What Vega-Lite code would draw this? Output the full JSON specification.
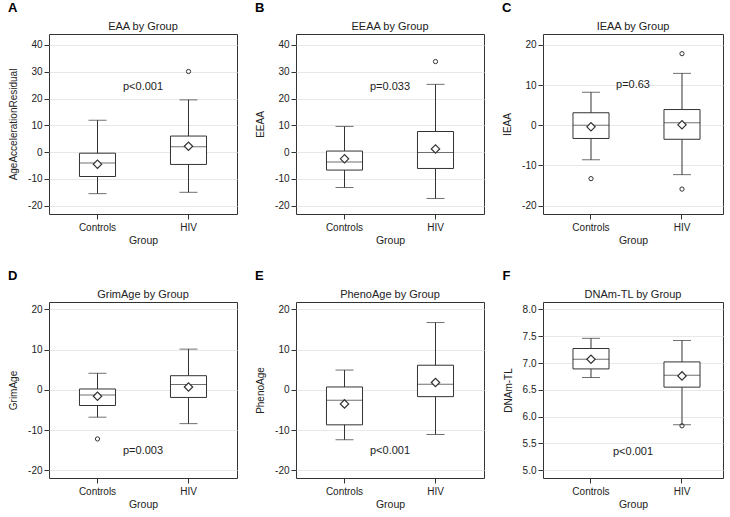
{
  "$schema": "https://vega.github.io/schema/vega-lite/v6.json",
  "padding": {"left": 8, "top": 1, "right": 0, "bottom": 0},
  "background": "white",
  "config": {
    "font": "Liberation Sans",
    "view": {"stroke": "#333", "strokeWidth": 1},
    "title": {"font": "Liberation Sans", "fontSize": 11, "fontWeight": "normal", "color": "#222", "offset": 2},
    "axis": {"labelFont": "Liberation Sans", "titleFont": "Liberation Sans", "labelFontSize": 10, "titleFontSize": 10, "titleFontWeight": "normal", "labelColor": "#222", "titleColor": "#222", "domain": false, "tickColor": "#333", "tickSize": 5, "gridColor": "#e8e8e8", "labelOverlap": false},
    "axisX": {"grid": false, "labelAngle": 0, "labelPadding": 3, "titlePadding": 3, "titleFontSize": 10.5},
    "axisY": {"grid": true, "labelPadding": 2, "titlePadding": 9, "labelExpr": "datum.value < 0 ? '-' + format(-datum.value, '.0f') : format(datum.value, '.0f')"},
    "concat": {"spacing": 17}
  },
  "datasets": {
    "stats": [
      {"panel": "A", "group": "Controls", "lo": -15.5, "q1": -9.1, "med": -4.1, "q3": -0.4, "hi": 11.9, "mean": -4.5},
      {"panel": "A", "group": "HIV", "lo": -15.0, "q1": -4.6, "med": 2.0, "q3": 6.0, "hi": 19.5, "mean": 2.2},
      {"panel": "B", "group": "Controls", "lo": -13.2, "q1": -6.7, "med": -3.7, "q3": 0.4, "hi": 9.6, "mean": -2.5},
      {"panel": "B", "group": "HIV", "lo": -17.3, "q1": -6.1, "med": -0.1, "q3": 7.7, "hi": 25.3, "mean": 1.2},
      {"panel": "C", "group": "Controls", "lo": -8.6, "q1": -3.3, "med": 0.0, "q3": 3.1, "hi": 8.2, "mean": -0.4},
      {"panel": "C", "group": "HIV", "lo": -12.3, "q1": -3.5, "med": 0.6, "q3": 3.9, "hi": 12.9, "mean": 0.1},
      {"panel": "D", "group": "Controls", "lo": -6.8, "q1": -3.9, "med": -1.3, "q3": 0.2, "hi": 4.1, "mean": -1.6},
      {"panel": "D", "group": "HIV", "lo": -8.4, "q1": -1.9, "med": 1.3, "q3": 3.5, "hi": 10.1, "mean": 0.7},
      {"panel": "E", "group": "Controls", "lo": -12.4, "q1": -8.7, "med": -2.6, "q3": 0.7, "hi": 4.9, "mean": -3.5},
      {"panel": "E", "group": "HIV", "lo": -11.1, "q1": -1.7, "med": 1.4, "q3": 6.1, "hi": 16.7, "mean": 1.8},
      {"panel": "F", "group": "Controls", "lo": 6.73, "q1": 6.89, "med": 7.07, "q3": 7.27, "hi": 7.46, "mean": 7.07},
      {"panel": "F", "group": "HIV", "lo": 5.85, "q1": 6.55, "med": 6.77, "q3": 7.02, "hi": 7.42, "mean": 6.76}
    ],
    "outliers": [
      {"panel": "A", "group": "HIV", "value": 30.1},
      {"panel": "B", "group": "HIV", "value": 33.8},
      {"panel": "C", "group": "Controls", "value": -13.3},
      {"panel": "C", "group": "HIV", "value": 17.8},
      {"panel": "C", "group": "HIV", "value": -15.9},
      {"panel": "D", "group": "Controls", "value": -12.2},
      {"panel": "F", "group": "HIV", "value": 5.83}
    ],
    "pvals": [
      {"panel": "A", "label": "p<0.001", "y": 24.4},
      {"panel": "B", "label": "p=0.033", "y": 24.4},
      {"panel": "C", "label": "p=0.63", "y": 9.9},
      {"panel": "D", "label": "p=0.003", "y": -15.3},
      {"panel": "E", "label": "p<0.001", "y": -15.3},
      {"panel": "F", "label": "p<0.001", "y": 5.35}
    ]
  },
  "spacing": 23,
  "vconcat": [
    {
      "spacing": 17,
      "hconcat": [
        {
          "title": {"text": "A", "anchor": "start", "fontWeight": "bold", "fontSize": 13, "color": "#000", "offset": 6},
          "vconcat": [{
            "width": 188, "height": 180,
            "title": "EAA by Group",
            "layer": [
              {"data": {"name": "stats"}, "transform": [{"filter": "datum.panel === 'A'"}],
               "layer": [
                 {"mark": {"type": "rule", "color": "#333"}, "encoding": {"x": {"field": "group", "type": "nominal", "scale": {"type": "band", "domain": ["Controls", "HIV"], "paddingInner": 0.604, "paddingOuter": 0.335}, "axis": {"title": "Group"}}, "y": {"field": "lo", "type": "quantitative", "scale": {"domain": [-23.1, 44.1], "nice": false, "zero": false}, "axis": {"title": "AgeAccelerationResidual", "values": [-20, -10, 0, 10, 20, 30, 40], "tickCount": 7}}, "y2": {"field": "hi"}}},
                 {"mark": {"type": "bar", "fill": "white", "stroke": "#333", "strokeWidth": 1}, "encoding": {"x": {"field": "group", "type": "nominal"}, "y": {"field": "q1", "type": "quantitative"}, "y2": {"field": "q3"}}},
                 {"mark": {"type": "tick", "color": "#333", "size": 36, "thickness": 1}, "encoding": {"x": {"field": "group", "type": "nominal"}, "y": {"field": "med", "type": "quantitative"}}},
                 {"mark": {"type": "tick", "color": "#333", "size": 18, "thickness": 1}, "encoding": {"x": {"field": "group", "type": "nominal"}, "y": {"field": "lo", "type": "quantitative"}}},
                 {"mark": {"type": "tick", "color": "#333", "size": 18, "thickness": 1}, "encoding": {"x": {"field": "group", "type": "nominal"}, "y": {"field": "hi", "type": "quantitative"}}},
                 {"mark": {"type": "point", "shape": "diamond", "filled": true, "fill": "white", "stroke": "#333", "strokeWidth": 1.2, "size": 70, "opacity": 1}, "encoding": {"x": {"field": "group", "type": "nominal"}, "y": {"field": "mean", "type": "quantitative"}}}
               ]},
              {"data": {"name": "outliers"}, "transform": [{"filter": "datum.panel === 'A'"}], "mark": {"type": "point", "shape": "circle", "filled": false, "stroke": "#333", "strokeWidth": 1, "size": 18, "opacity": 1}, "encoding": {"x": {"field": "group", "type": "nominal"}, "y": {"field": "value", "type": "quantitative"}}},
              {"data": {"name": "pvals"}, "transform": [{"filter": "datum.panel === 'A'"}], "mark": {"type": "text", "font": "Liberation Sans", "fontSize": 11, "color": "#222"}, "encoding": {"y": {"field": "y", "type": "quantitative"}, "text": {"field": "label"}}}
            ]
          }]
        },
        {
          "title": {"text": "B", "anchor": "start", "fontWeight": "bold", "fontSize": 13, "color": "#000", "offset": 6},
          "vconcat": [{
            "width": 188, "height": 180,
            "title": "EEAA by Group",
            "layer": [
              {"data": {"name": "stats"}, "transform": [{"filter": "datum.panel === 'B'"}],
               "layer": [
                 {"mark": {"type": "rule", "color": "#333"}, "encoding": {"x": {"field": "group", "type": "nominal", "scale": {"type": "band", "domain": ["Controls", "HIV"], "paddingInner": 0.604, "paddingOuter": 0.335}, "axis": {"title": "Group"}}, "y": {"field": "lo", "type": "quantitative", "scale": {"domain": [-23.1, 44.1], "nice": false, "zero": false}, "axis": {"title": "EEAA", "values": [-20, -10, 0, 10, 20, 30, 40], "tickCount": 7}}, "y2": {"field": "hi"}}},
                 {"mark": {"type": "bar", "fill": "white", "stroke": "#333", "strokeWidth": 1}, "encoding": {"x": {"field": "group", "type": "nominal"}, "y": {"field": "q1", "type": "quantitative"}, "y2": {"field": "q3"}}},
                 {"mark": {"type": "tick", "color": "#333", "size": 36, "thickness": 1}, "encoding": {"x": {"field": "group", "type": "nominal"}, "y": {"field": "med", "type": "quantitative"}}},
                 {"mark": {"type": "tick", "color": "#333", "size": 18, "thickness": 1}, "encoding": {"x": {"field": "group", "type": "nominal"}, "y": {"field": "lo", "type": "quantitative"}}},
                 {"mark": {"type": "tick", "color": "#333", "size": 18, "thickness": 1}, "encoding": {"x": {"field": "group", "type": "nominal"}, "y": {"field": "hi", "type": "quantitative"}}},
                 {"mark": {"type": "point", "shape": "diamond", "filled": true, "fill": "white", "stroke": "#333", "strokeWidth": 1.2, "size": 70, "opacity": 1}, "encoding": {"x": {"field": "group", "type": "nominal"}, "y": {"field": "mean", "type": "quantitative"}}}
               ]},
              {"data": {"name": "outliers"}, "transform": [{"filter": "datum.panel === 'B'"}], "mark": {"type": "point", "shape": "circle", "filled": false, "stroke": "#333", "strokeWidth": 1, "size": 18, "opacity": 1}, "encoding": {"x": {"field": "group", "type": "nominal"}, "y": {"field": "value", "type": "quantitative"}}},
              {"data": {"name": "pvals"}, "transform": [{"filter": "datum.panel === 'B'"}], "mark": {"type": "text", "font": "Liberation Sans", "fontSize": 11, "color": "#222"}, "encoding": {"y": {"field": "y", "type": "quantitative"}, "text": {"field": "label"}}}
            ]
          }]
        },
        {
          "title": {"text": "C", "anchor": "start", "fontWeight": "bold", "fontSize": 13, "color": "#000", "offset": 6},
          "vconcat": [{
            "width": 180, "height": 180,
            "title": "IEAA by Group",
            "layer": [
              {"data": {"name": "stats"}, "transform": [{"filter": "datum.panel === 'C'"}],
               "layer": [
                 {"mark": {"type": "rule", "color": "#333"}, "encoding": {"x": {"field": "group", "type": "nominal", "scale": {"type": "band", "domain": ["Controls", "HIV"], "paddingInner": 0.604, "paddingOuter": 0.291, "align": 0.566}, "axis": {"title": "Group"}}, "y": {"field": "lo", "type": "quantitative", "scale": {"domain": [-22.1, 22.7], "nice": false, "zero": false}, "axis": {"title": "IEAA", "values": [-20, -10, 0, 10, 20], "tickCount": 5}}, "y2": {"field": "hi"}}},
                 {"mark": {"type": "bar", "fill": "white", "stroke": "#333", "strokeWidth": 1}, "encoding": {"x": {"field": "group", "type": "nominal"}, "y": {"field": "q1", "type": "quantitative"}, "y2": {"field": "q3"}}},
                 {"mark": {"type": "tick", "color": "#333", "size": 36, "thickness": 1}, "encoding": {"x": {"field": "group", "type": "nominal"}, "y": {"field": "med", "type": "quantitative"}}},
                 {"mark": {"type": "tick", "color": "#333", "size": 18, "thickness": 1}, "encoding": {"x": {"field": "group", "type": "nominal"}, "y": {"field": "lo", "type": "quantitative"}}},
                 {"mark": {"type": "tick", "color": "#333", "size": 18, "thickness": 1}, "encoding": {"x": {"field": "group", "type": "nominal"}, "y": {"field": "hi", "type": "quantitative"}}},
                 {"mark": {"type": "point", "shape": "diamond", "filled": true, "fill": "white", "stroke": "#333", "strokeWidth": 1.2, "size": 70, "opacity": 1}, "encoding": {"x": {"field": "group", "type": "nominal"}, "y": {"field": "mean", "type": "quantitative"}}}
               ]},
              {"data": {"name": "outliers"}, "transform": [{"filter": "datum.panel === 'C'"}], "mark": {"type": "point", "shape": "circle", "filled": false, "stroke": "#333", "strokeWidth": 1, "size": 18, "opacity": 1}, "encoding": {"x": {"field": "group", "type": "nominal"}, "y": {"field": "value", "type": "quantitative"}}},
              {"data": {"name": "pvals"}, "transform": [{"filter": "datum.panel === 'C'"}], "mark": {"type": "text", "font": "Liberation Sans", "fontSize": 11, "color": "#222"}, "encoding": {"y": {"field": "y", "type": "quantitative"}, "text": {"field": "label"}}}
            ]
          }]
        }
      ]
    },
    {
      "spacing": 17,
      "hconcat": [
        {
          "title": {"text": "D", "anchor": "start", "fontWeight": "bold", "fontSize": 13, "color": "#000", "offset": 6},
          "vconcat": [{
            "width": 188, "height": 176,
            "title": "GrimAge by Group",
            "layer": [
              {"data": {"name": "stats"}, "transform": [{"filter": "datum.panel === 'D'"}],
               "layer": [
                 {"mark": {"type": "rule", "color": "#333"}, "encoding": {"x": {"field": "group", "type": "nominal", "scale": {"type": "band", "domain": ["Controls", "HIV"], "paddingInner": 0.604, "paddingOuter": 0.335}, "axis": {"title": "Group"}}, "y": {"field": "lo", "type": "quantitative", "scale": {"domain": [-21.9, 21.8], "nice": false, "zero": false}, "axis": {"title": "GrimAge", "values": [-20, -10, 0, 10, 20], "tickCount": 5}}, "y2": {"field": "hi"}}},
                 {"mark": {"type": "bar", "fill": "white", "stroke": "#333", "strokeWidth": 1}, "encoding": {"x": {"field": "group", "type": "nominal"}, "y": {"field": "q1", "type": "quantitative"}, "y2": {"field": "q3"}}},
                 {"mark": {"type": "tick", "color": "#333", "size": 36, "thickness": 1}, "encoding": {"x": {"field": "group", "type": "nominal"}, "y": {"field": "med", "type": "quantitative"}}},
                 {"mark": {"type": "tick", "color": "#333", "size": 18, "thickness": 1}, "encoding": {"x": {"field": "group", "type": "nominal"}, "y": {"field": "lo", "type": "quantitative"}}},
                 {"mark": {"type": "tick", "color": "#333", "size": 18, "thickness": 1}, "encoding": {"x": {"field": "group", "type": "nominal"}, "y": {"field": "hi", "type": "quantitative"}}},
                 {"mark": {"type": "point", "shape": "diamond", "filled": true, "fill": "white", "stroke": "#333", "strokeWidth": 1.2, "size": 70, "opacity": 1}, "encoding": {"x": {"field": "group", "type": "nominal"}, "y": {"field": "mean", "type": "quantitative"}}}
               ]},
              {"data": {"name": "outliers"}, "transform": [{"filter": "datum.panel === 'D'"}], "mark": {"type": "point", "shape": "circle", "filled": false, "stroke": "#333", "strokeWidth": 1, "size": 18, "opacity": 1}, "encoding": {"x": {"field": "group", "type": "nominal"}, "y": {"field": "value", "type": "quantitative"}}},
              {"data": {"name": "pvals"}, "transform": [{"filter": "datum.panel === 'D'"}], "mark": {"type": "text", "font": "Liberation Sans", "fontSize": 11, "color": "#222"}, "encoding": {"y": {"field": "y", "type": "quantitative"}, "text": {"field": "label"}}}
            ]
          }]
        },
        {
          "title": {"text": "E", "anchor": "start", "fontWeight": "bold", "fontSize": 13, "color": "#000", "offset": 6},
          "vconcat": [{
            "width": 188, "height": 176,
            "title": "PhenoAge by Group",
            "layer": [
              {"data": {"name": "stats"}, "transform": [{"filter": "datum.panel === 'E'"}],
               "layer": [
                 {"mark": {"type": "rule", "color": "#333"}, "encoding": {"x": {"field": "group", "type": "nominal", "scale": {"type": "band", "domain": ["Controls", "HIV"], "paddingInner": 0.604, "paddingOuter": 0.335}, "axis": {"title": "Group"}}, "y": {"field": "lo", "type": "quantitative", "scale": {"domain": [-21.9, 21.8], "nice": false, "zero": false}, "axis": {"title": "PhenoAge", "values": [-20, -10, 0, 10, 20], "tickCount": 5}}, "y2": {"field": "hi"}}},
                 {"mark": {"type": "bar", "fill": "white", "stroke": "#333", "strokeWidth": 1}, "encoding": {"x": {"field": "group", "type": "nominal"}, "y": {"field": "q1", "type": "quantitative"}, "y2": {"field": "q3"}}},
                 {"mark": {"type": "tick", "color": "#333", "size": 36, "thickness": 1}, "encoding": {"x": {"field": "group", "type": "nominal"}, "y": {"field": "med", "type": "quantitative"}}},
                 {"mark": {"type": "tick", "color": "#333", "size": 18, "thickness": 1}, "encoding": {"x": {"field": "group", "type": "nominal"}, "y": {"field": "lo", "type": "quantitative"}}},
                 {"mark": {"type": "tick", "color": "#333", "size": 18, "thickness": 1}, "encoding": {"x": {"field": "group", "type": "nominal"}, "y": {"field": "hi", "type": "quantitative"}}},
                 {"mark": {"type": "point", "shape": "diamond", "filled": true, "fill": "white", "stroke": "#333", "strokeWidth": 1.2, "size": 70, "opacity": 1}, "encoding": {"x": {"field": "group", "type": "nominal"}, "y": {"field": "mean", "type": "quantitative"}}}
               ]},
              {"data": {"name": "pvals"}, "transform": [{"filter": "datum.panel === 'E'"}], "mark": {"type": "text", "font": "Liberation Sans", "fontSize": 11, "color": "#222"}, "encoding": {"y": {"field": "y", "type": "quantitative"}, "text": {"field": "label"}}}
            ]
          }]
        },
        {
          "title": {"text": "F", "anchor": "start", "fontWeight": "bold", "fontSize": 13, "color": "#000", "offset": 6},
          "vconcat": [{
            "width": 180, "height": 176,
            "title": "DNAm-TL by Group",
            "layer": [
              {"data": {"name": "stats"}, "transform": [{"filter": "datum.panel === 'F'"}],
               "layer": [
                 {"mark": {"type": "rule", "color": "#333"}, "encoding": {"x": {"field": "group", "type": "nominal", "scale": {"type": "band", "domain": ["Controls", "HIV"], "paddingInner": 0.604, "paddingOuter": 0.291, "align": 0.566}, "axis": {"title": "Group"}}, "y": {"field": "lo", "type": "quantitative", "scale": {"domain": [4.857, 8.137], "nice": false, "zero": false}, "axis": {"title": "DNAm-TL", "values": [5.0, 5.5, 6.0, 6.5, 7.0, 7.5, 8.0], "tickCount": 7, "labelExpr": "format(datum.value, '.1f')"}}, "y2": {"field": "hi"}}},
                 {"mark": {"type": "bar", "fill": "white", "stroke": "#333", "strokeWidth": 1}, "encoding": {"x": {"field": "group", "type": "nominal"}, "y": {"field": "q1", "type": "quantitative"}, "y2": {"field": "q3"}}},
                 {"mark": {"type": "tick", "color": "#333", "size": 36, "thickness": 1}, "encoding": {"x": {"field": "group", "type": "nominal"}, "y": {"field": "med", "type": "quantitative"}}},
                 {"mark": {"type": "tick", "color": "#333", "size": 18, "thickness": 1}, "encoding": {"x": {"field": "group", "type": "nominal"}, "y": {"field": "lo", "type": "quantitative"}}},
                 {"mark": {"type": "tick", "color": "#333", "size": 18, "thickness": 1}, "encoding": {"x": {"field": "group", "type": "nominal"}, "y": {"field": "hi", "type": "quantitative"}}},
                 {"mark": {"type": "point", "shape": "diamond", "filled": true, "fill": "white", "stroke": "#333", "strokeWidth": 1.2, "size": 70, "opacity": 1}, "encoding": {"x": {"field": "group", "type": "nominal"}, "y": {"field": "mean", "type": "quantitative"}}}
               ]},
              {"data": {"name": "outliers"}, "transform": [{"filter": "datum.panel === 'F'"}], "mark": {"type": "point", "shape": "circle", "filled": false, "stroke": "#333", "strokeWidth": 1, "size": 18, "opacity": 1}, "encoding": {"x": {"field": "group", "type": "nominal"}, "y": {"field": "value", "type": "quantitative"}}},
              {"data": {"name": "pvals"}, "transform": [{"filter": "datum.panel === 'F'"}], "mark": {"type": "text", "font": "Liberation Sans", "fontSize": 11, "color": "#222"}, "encoding": {"y": {"field": "y", "type": "quantitative"}, "text": {"field": "label"}}}
            ]
          }]
        }
      ]
    }
  ]
}
